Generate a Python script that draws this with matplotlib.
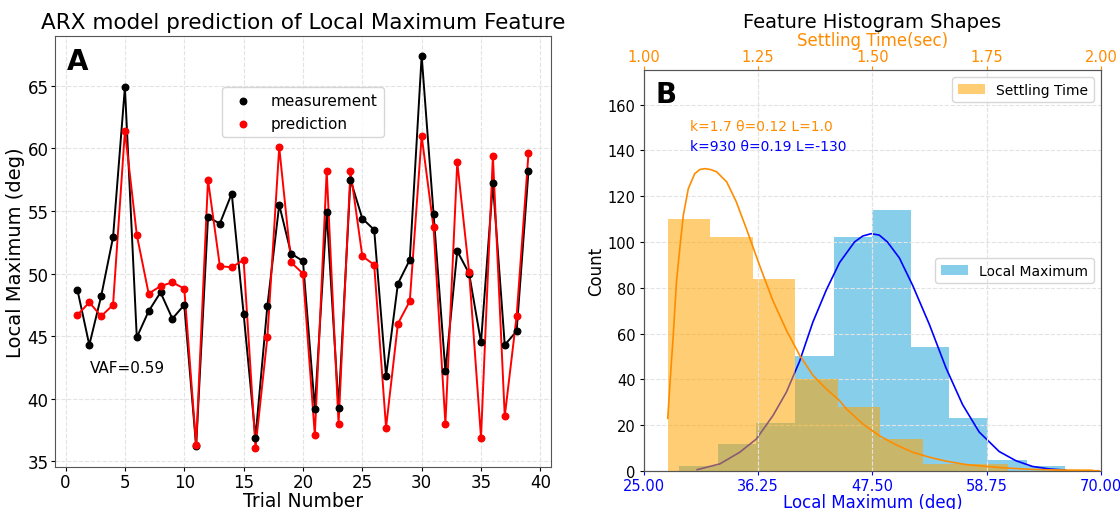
import numpy as np
import matplotlib
matplotlib.use('Agg')
import matplotlib.pyplot as plt
from matplotlib.ticker import FormatStrFormatter

# panel A: ARX model prediction
trials = list(range(1, 40))
measurement = [48.7, 44.3, 48.2, 52.9, 64.9, 44.9, 47.0, 48.5, 46.4, 47.5,
               36.2, 54.5, 54.0, 56.4, 46.8, 36.9, 47.4, 55.5, 51.6, 51.0,
               39.2, 54.9, 39.3, 57.5, 54.4, 53.5, 41.8, 49.2, 51.1, 67.4,
               54.8, 42.2, 51.8, 50.0, 44.5, 57.2, 44.3, 45.4, 58.2]
prediction = [46.7, 47.7, 46.6, 47.5, 61.4, 53.1, 48.4, 49.0, 49.3, 48.8,
              36.3, 57.5, 50.6, 50.5, 51.1, 36.1, 44.9, 60.1, 50.9, 50.0,
              37.1, 58.2, 38.0, 58.2, 51.4, 50.7, 37.7, 46.0, 47.8, 61.0,
              53.7, 38.0, 58.9, 50.1, 36.9, 59.4, 38.6, 46.6, 59.6]
vaf = 0.59

# panel B: histograms (10 equal bins each)
lm_range = (28.47, 66.47)
lm_counts = [2, 12, 21, 50, 102, 114, 54, 23, 5, 2]
st_range = (1.052, 1.983)
st_counts = [110, 102, 84, 40, 28, 14, 3, 3, 0, 1]

# fitted gamma curves
lm_curve_x = [30.24, 32.47, 34.43, 36.07, 37.70, 39.02, 40.33, 41.63, 42.95, 44.26,
              45.73, 46.55, 47.37, 48.16, 48.97, 50.15, 51.46, 53.10, 54.74, 56.37,
              58.01, 59.98, 61.62, 63.25, 64.89, 66.53]
lm_curve_y = [0.6, 3.1, 8.2, 14.0, 24.2, 34.4, 48.0, 65.0, 79.0, 91.0,
              100.0, 102.6, 103.6, 103.0, 100.0, 93.0, 81.0, 64.0, 45.0, 29.0,
              17.0, 8.5, 4.5, 2.0, 0.9, 0.4]
st_curve_x = [1.052, 1.058, 1.064, 1.071, 1.079, 1.086, 1.097, 1.111, 1.122, 1.133,
              1.146, 1.159, 1.181, 1.202, 1.224, 1.253, 1.282, 1.312, 1.341, 1.370,
              1.399, 1.428, 1.443, 1.479, 1.515, 1.552, 1.588, 1.625, 1.661, 1.705,
              1.777, 1.849, 1.923, 1.996]
st_curve_y = [23.0, 41.7, 59.2, 82.5, 98.5, 111.6, 123.3, 129.8, 131.6, 132.0,
              131.6, 130.6, 126.2, 117.5, 105.8, 89.7, 74.4, 61.3, 50.4, 41.7,
              35.8, 30.7, 27.1, 20.5, 15.4, 11.4, 8.2, 6.0, 4.3, 2.8,
              1.5, 0.7, 0.3, 0.1]

fig = plt.figure(figsize=(11.2, 5.1), dpi=100)
axA = fig.add_axes([0.049, 0.082, 0.443, 0.845])
axB = fig.add_axes([0.575, 0.0745, 0.408, 0.786])

# ---- A ----
axA.plot(trials, measurement, '-', color='black', lw=1.4)
axA.plot(trials, prediction, '-', color='red', lw=1.4)
axA.scatter(trials, measurement, color='black', s=22, zorder=3, label='measurement')
axA.scatter(trials, prediction, color='red', s=22, zorder=3, label='prediction')
axA.set_xticks(range(0, 41, 5))
axA.tick_params(labelsize=12, pad=1.5, length=3)
axA.grid(True, ls='--', color='#e3e3e3', lw=0.8)
axA.set_xlabel('Trial Number', fontsize=13.5, labelpad=0)
axA.set_ylabel('Local Maximum (deg)', fontsize=14, labelpad=2)
axA.set_title('ARX model prediction of Local Maximum Feature', fontsize=15.5, pad=6)
axA.text(0.025, 0.975, 'A', transform=axA.transAxes, fontsize=20, fontweight='bold',
         va='top', ha='left')
axA.text(0.07, 0.22, 'VAF=%.2f' % vaf, transform=axA.transAxes, fontsize=11)
axA.legend(loc='upper center', bbox_to_anchor=(0.5, 0.9), fontsize=11, handletextpad=0.8)
for s in axA.spines.values():
    s.set_color('#555555')

# ---- B ----
lm_edges = np.linspace(lm_range[0], lm_range[1], len(lm_counts) + 1)
st_edges = np.linspace(st_range[0], st_range[1], len(st_counts) + 1)

axB.bar(lm_edges[:-1], lm_counts, width=np.diff(lm_edges), align='edge',
        color='skyblue', label='Local Maximum')
axB.plot(lm_curve_x, lm_curve_y, color='blue', lw=1.2)
axB.set_xlim(25, 70)
axB.set_ylim(0, 175)
axB.set_xticks([25, 36.25, 47.5, 58.75, 70])
axB.xaxis.set_major_formatter(FormatStrFormatter('%.2f'))
axB.tick_params(axis='x', colors='blue', labelsize=10.5, pad=2, length=3)
axB.tick_params(axis='y', labelsize=10.5, pad=3, length=3)
axB.set_yticks(range(0, 161, 20))
axB.set_xlabel('Local Maximum (deg)', color='blue', fontsize=12, labelpad=0)
axB.set_ylabel('Count', fontsize=12, labelpad=2)
axB.grid(True, ls='--', color='#e3e3e3', lw=0.8)
axB.legend(loc='center right', fontsize=10)

axT = axB.twiny()
axT.bar(st_edges[:-1], st_counts, width=np.diff(st_edges), align='edge',
        color='orange', alpha=0.55, label='Settling Time')
axT.plot(st_curve_x, st_curve_y, color='darkorange', lw=1.2)
axT.set_xlim(1.0, 2.0)
axT.set_xticks([1.0, 1.25, 1.5, 1.75, 2.0])
axT.xaxis.set_major_formatter(FormatStrFormatter('%.2f'))
axT.tick_params(axis='x', colors='darkorange', labelsize=10.5, pad=1.5, length=3)
axT.set_xlabel('Settling Time(sec)', color='darkorange', fontsize=12, labelpad=3)
axT.grid(True, axis='x', ls='--', color='#e3e3e3', lw=0.8)
axT.legend(loc='upper right', fontsize=10)
axT.set_title('Feature Histogram Shapes', fontsize=14, pad=2)
axT.text(0.025, 0.975, 'B', transform=axT.transAxes, fontsize=20, fontweight='bold',
         va='top', ha='left')
axT.text(0.1, 0.86, 'k=1.7 θ=0.12 L=1.0', transform=axT.transAxes, color='darkorange',
         fontsize=10, va='center')
axT.text(0.1, 0.81, 'k=930 θ=0.19 L=-130', transform=axT.transAxes, color='blue',
         fontsize=10, va='center')
for ax in (axB, axT):
    for s in ax.spines.values():
        s.set_color('#555555')

fig.savefig('out.png', dpi=100)
